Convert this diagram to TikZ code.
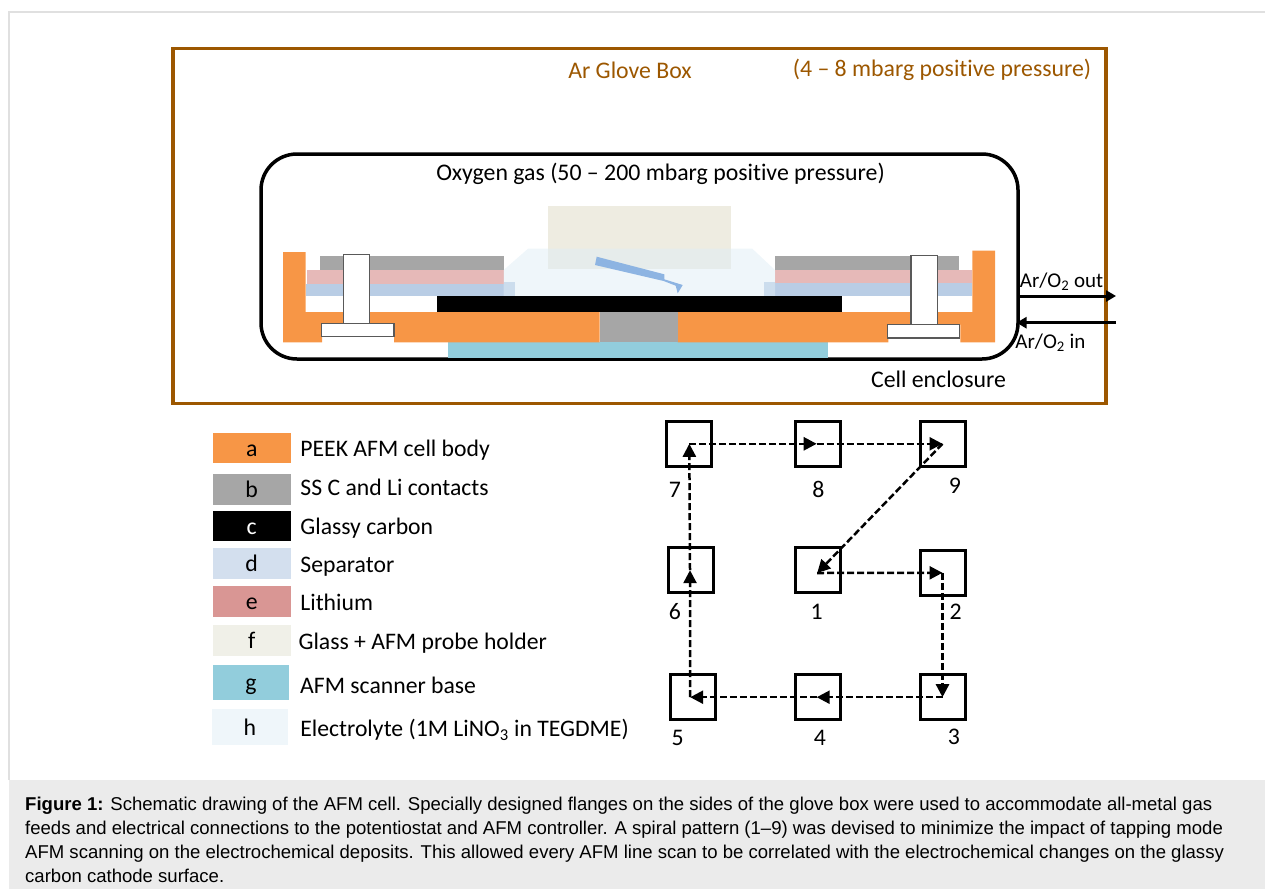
\documentclass[tikz,border=0pt]{standalone}
\usepackage{fontspec}
\setmainfont[Ligatures=NoCommon]{Carlito}
\newfontfamily\capfont{Liberation Sans}
\usetikzlibrary{arrows.meta,positioning}
\definecolor{BoxBrown}{RGB}{156,87,0}
\definecolor{PeekOrange}{RGB}{247,150,70}
\definecolor{ContactGray}{RGB}{166,166,166}
\definecolor{SepBlue}{RGB}{185,205,229}
\definecolor{LiPink}{RGB}{230,185,184}
\definecolor{GlassTan}{RGB}{238,236,225}
\definecolor{BaseTeal}{RGB}{146,205,220}
\definecolor{ElecBlue}{RGB}{223,237,245}
\definecolor{ProbeBlue}{RGB}{141,180,226}
\definecolor{LegSep}{RGB}{211,223,238}
\definecolor{LegLi}{RGB}{217,150,148}
\definecolor{LegGlass}{RGB}{240,240,232}
\definecolor{LegElec}{RGB}{239,246,250}
\definecolor{CapGray}{RGB}{235,235,235}
\definecolor{FrameGray}{RGB}{224,224,224}
\tikzset{
  lab/.style={font=\fontsize{23.8}{26}\selectfont,inner sep=0pt},
  gaslab/.style={font=\fontsize{21}{24}\selectfont,inner sep=0pt},
  legbox/.style={minimum width=78pt,minimum height=30.6pt,inner sep=0pt,text height=16.5pt,text depth=0pt,
    font=\fontsize{23.8}{26}\selectfont},
  leglab/.style={font=\fontsize{23.7}{26}\selectfont,inner sep=0pt,text height=15pt,text depth=6pt},
  post/.style={draw=black!65,fill=white,line width=1.3pt},
  spot/.style={draw=black,line width=3pt,minimum width=45pt,minimum height=45pt,inner sep=0pt},
  spotlab/.style={font=\fontsize{23.8}{26}\selectfont,inner sep=0pt},
  scan/.style={-{Triangle[length=13pt,width=13pt]},line width=2.5pt,dash pattern=on 7pt off 3pt},
  gasarrow/.style={-{Triangle[length=10pt,width=11pt]},line width=3pt}
}
\begin{document}
\begin{tikzpicture}[x=1pt,y=-1pt]
  \useasboundingbox (0,0) rectangle (1265,889);
  % page frame and caption
  \draw[FrameGray,line width=1.5pt] (9,780) -- (9,12) -- (1265,12);
  \fill[CapGray] (9,780) rectangle (1265,889);
  \node[font=\capfont\fontsize{18.55}{24.2}\selectfont,anchor=north west,inner sep=0pt,align=left] (caption) at (25,796.5)
    {{\bfseries Figure 1:} Schematic drawing of the AFM cell. Specially designed flanges on the sides of the glove box were used to accommodate all-metal gas\\
     feeds and electrical connections to the potentiostat and AFM controller. A spiral pattern (1–9) was devised to minimize the impact of tapping mode\\
     AFM scanning on the electrochemical deposits. This allowed every AFM line scan to be correlated with the electrochemical changes on the glassy\\
     carbon cathode surface.};

  % enclosures
  \node[draw=BoxBrown,line width=3.3pt,minimum width=933pt,minimum height=355pt,inner sep=0pt] (glovebox) at (639.5,226) {};
  \node[draw=black,line width=3.5pt,rounded corners=36pt,minimum width=757pt,minimum height=205pt,inner sep=0pt] (enclosure) at (639.5,256.5) {};
  \node[lab,text=BoxBrown] (gbtitle) at (630,70) {Ar Glove Box};
  \node[lab,text=BoxBrown] (gbpress) at (942,70) {(4 – 8 mbarg positive pressure)};
  \node[lab] (oxygen) at (660.5,174) {Oxygen gas (50 – 200 mbarg positive pressure)};
  \node[lab] (celltitle) at (938.5,379) {Cell enclosure};

  % cell layers
  \fill[GlassTan] (548,206) rectangle (731,268.7);
  \fill[BaseTeal] (447.7,342.3) rectangle (827.7,358);
  \fill[PeekOrange] (283,252) -- (305.7,252) -- (305.7,312) -- (599.7,312) -- (599.7,342.3) -- (394,342.3)
    -- (394,323.7) -- (322,323.7) -- (322,342.3) -- (283,342.3) -- cycle;
  \fill[PeekOrange] (972.3,250.7) -- (995,250.7) -- (995,342.3) -- (960.3,342.3) -- (960.3,324.7) -- (888.3,324.7)
    -- (888.3,342.3) -- (677.7,342.3) -- (677.7,312) -- (972.3,312) -- cycle;
  \fill[ContactGray] (599.7,312) rectangle (677.7,342.3);
  \fill[ContactGray] (320.3,256) rectangle (503.7,270.3);
  \fill[ContactGray] (775,256.3) rectangle (958.7,270.3);
  \fill[LiPink] (306.7,270.3) rectangle (503.7,283.7);
  \fill[LiPink] (775,270.3) rectangle (972.3,283);
  \fill[SepBlue] (305.7,283.7) rectangle (504,295.7);
  \fill[SepBlue] (504,281.7) rectangle (515,295.7);
  \fill[SepBlue] (775,283) rectangle (972.3,296);
  \fill[SepBlue] (764.3,282.3) rectangle (775,296);
  \fill[ElecBlue,opacity=.5] (503.7,270) -- (528,248.7) -- (752.3,248.7) -- (775,270) -- (775,296) -- (503.7,296) -- cycle;
  \fill (436.7,295.7) rectangle (842,312);
  % probe
  \fill[ProbeBlue] (596.7,256.7) -- (664.3,274.3) -- (664.3,279.3) -- (682.7,285) -- (677.7,293.3) -- (675.7,285.7)
    -- (663.7,281) -- (595,265) -- cycle;

  % posts
  \draw[post] (343.7,323.7) -- (343.7,254.3) -- (369.7,254.3) -- (369.7,323.7);
  \draw[post] (321.7,323.7) rectangle (394,336.7);
  \draw[post] (911,324.7) -- (911,255.7) -- (937.7,255.7) -- (937.7,324.7);
  \draw[post] (887.7,324.7) rectangle (959.7,338);

  % gas lines
  \coordinate (outstart) at (1017.7,296);
  \coordinate (outend) at (1116,296);
  \coordinate (instart) at (1116,322.7);
  \coordinate (inend) at (1016.5,322.7);
  \draw[gasarrow] (outstart) -- (outend);
  \draw[gasarrow] (instart) -- (inend);
  \node[gaslab] (outlab) at (1061.5,282) {Ar/O\textsubscript{2} out};
  \node[gaslab] (inlab) at (1050.5,342.5) {Ar/O\textsubscript{2} in};

  % legend
  \foreach \nm/\col/\yy/\dy/\txt in {a/PeekOrange/448/-4/PEEK AFM cell body,b/ContactGray/489.7/-1/SS C and Li contacts,
      d/LegSep/563.5/-4/Separator,e/LegLi/601.5/-4/Lithium}{
    \node[legbox,fill=\col] (leg\nm) at (251.7,\yy) {\nm};
    \node[leglab,right=9.3pt of leg\nm,yshift=\dy pt] (txt\nm) {\txt};
  }
  \node[legbox,fill=black,text=white] (legc) at (251.7,526) {c};
  \node[leglab,right=9.3pt of legc,yshift=-4pt] (txtc) {Glassy carbon};
  \node[legbox,fill=LegGlass] (legf) at (251.7,640.5) {f};
  \node[leglab,right=7.5pt of legf,yshift=-4pt] (txtf) {Glass + AFM probe holder};
  \node[legbox,fill=BaseTeal,minimum width=76.6pt,minimum height=35.3pt] (legg) at (251,682.7) {g};
  \node[leglab,right=10.5pt of legg,yshift=-6pt] (txtg) {AFM scanner base};
  \node[legbox,fill=LegElec,minimum width=75.7pt,minimum height=35.4pt] (legh) at (249.8,727) {h};
  \node[leglab,right=12.3pt of legh,yshift=-5pt] (txth) {Electrolyte (1M LiNO\textsubscript{3} in TEGDME)};

  % scan spots
  \node[spot] (s7) at (689.3,443.8) {};
  \node[spot,right=80.9pt of s7] (s8) {};
  \node[spot,right=76.3pt of s8] (s9) {};
  \node[spot] (s6) at (690.8,570.2) {};
  \node[spot] (s1) at (818.2,570.2) {};
  \node[spot] (s2) at (942.5,572.8) {};
  \node[spot] (s5) at (693.2,697.2) {};
  \node[spot] (s4) at (818.2,697.2) {};
  \node[spot] (s3) at (942.5,697.2) {};
  \foreach \x/\xx/\yy in {7/675/490,8/818.3/489,9/955/486,6/675/611.7,1/816.7/611.7,2/955.7/612,5/677.7/738,4/820/738,3/954/736.7}{
    \node[spotlab] (n\x) at (\xx,\yy) {\x};
  }
  \draw[scan] ([xshift=-1pt,yshift=-2.8pt]s1.center) -- (s2.center);
  \draw[scan] (s2.center) -- (s3.center);
  \draw[scan] (s3.center) -- ([xshift=-1.5pt]s4.center);
  \draw[scan] ([xshift=-1.5pt]s4.center) -- ([xshift=-3pt]s5.center);
  \draw[scan] ([xshift=-3pt]s5.center) -- ([xshift=-0.8pt]s6.center);
  \draw[scan] ([xshift=-0.8pt]s6.center) -- (s7.center);
  \draw[scan] (s7.center) -- ([xshift=-1.5pt]s8.center);
  \draw[scan] ([xshift=-1.5pt]s8.center) -- (s9.center);
  \draw[scan] (s9.center) -- ([xshift=-1pt,yshift=-2.8pt]s1.center);
\end{tikzpicture}
\end{document}
